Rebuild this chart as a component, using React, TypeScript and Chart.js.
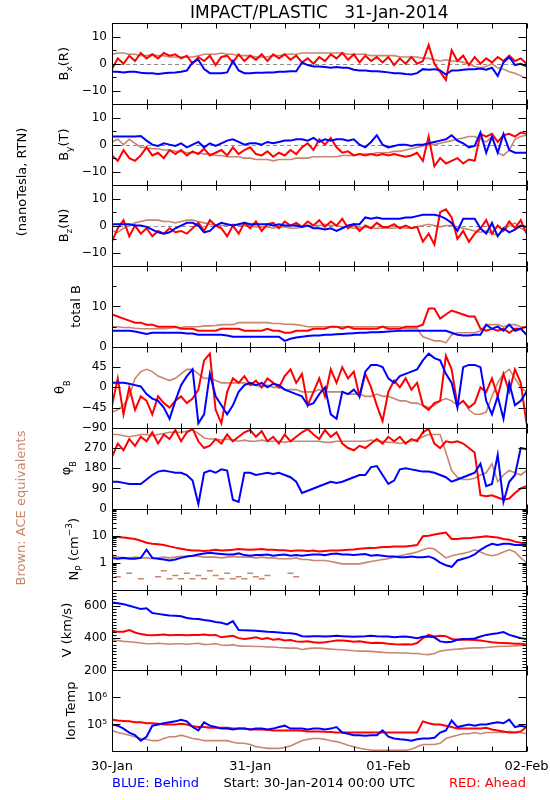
import React, { useEffect, useRef } from "react";
import { Chart, registerables } from "chart.js";

Chart.register(...registerables);

// ---------------- DATA (hours since 30-Jan-2014 00:00 UTC) ----------------
const HOURS = [
  0, 1, 2, 3, 4, 5, 6, 7, 8, 9, 10, 11, 12, 13, 14, 15, 16, 17, 18, 19, 20, 21, 22, 23,
  24, 25, 26, 27, 28, 29, 30, 31, 32, 33, 34, 35, 36, 37, 38, 39, 40, 41, 42, 43, 44, 45, 46, 47,
  48, 49, 50, 51, 52, 53, 54, 55, 56, 57, 58, 59, 60, 61, 62, 63, 64, 65, 66, 67, 68, 69, 70, 71, 72,
];
const DAY_LABELS = ["30-Jan", "31-Jan", "01-Feb", "02-Feb"];

// Bx (R), nT
const BX_BLUE = [-3, -3, -3.2, -3, -3, -3.3, -3.5, -3.5, -3.8, -3.5, -3.3, -3.2,
  -3, -2.5, 0.5, 1.5, -2, -3.5, -3.5, -3.5, -3.2, 1, -2.5, -3.5,
  -3.5, -3.3, -3.3, -3.2, -3.2, -3, -3, -2.8, -2.8, 0.5, -0.5, -1,
  -1, -1.2, -1.5, -1.2, -1.5, -1.5, -2.2, -2.5, -2.5, -2.8, -2.8, -3,
  -3.2, -3.5, -3.5, -3.8, -4, -3.5, -2, -2.2, -2, -2.5, -4, -2.5,
  -2.5, -2.2, -2, -2, -1.8, -2.2, -1.5, -4.5, 0.5, 2.5, -0.5, 0,
  -1];
const BX_RED = [-2, 2, 0, 3, 1, 4, 2, 3.5, 2, 4, 3, 3.5,
  2, 3, 0, 2.5, 1, 3, -0.5, 2.5, 3, 0.5, 3.5, 1,
  3, 1.5, 3.5, 1, 3.5, 2, 3.5, 1.5, 3, 0.5, 2, 0,
  2.5, 1, 3.5, 2, 4, 1.5, 3.5, 0.5, 3, 1, 2.5, 0.5,
  2.5, -0.5, 2, 0, 2.5, 0, 1, 7, 0, -3, -6, 5,
  1, 3, -0.5, 2.5, 0, 2, 0.5, 2.5, 1, 3, 1, 2,
  0];
const BX_BROWN = [3.5, 4, 4, 3.5, 3.5, 3, 3, 3.5, 3, 3, 2.5, 2.5,
  2.5, 2.5, 2.5, 3, 3.5, 3.5, 3.5, 4, 3.5, 3.5, 3, 3,
  3, 2.5, 2.5, 2.5, 3, 3, 3.5, 3.5, 3.5, 4, 4, 4,
  4, 4, 4, 4, 4, 3.5, 3.5, 3.5, 3.5, 3, 3, 3,
  3, 3, 2.5, 2.5, 2.5, 2.5, 2, 2, 1.5, 1, 1.5, 1,
  1, 0.5, 0, -1, -1.5, -1, 0, -1.5, -2, -3, -3.5, -4.5,
  -5.5];

// By (T), nT
const BY_BLUE = [3, 3, 3, 3, 3, 3.2, 1.5, 0, -0.5, 0.5, 0, -0.5,
  0.5, -1, 0, 1, -1, 0.5, -0.5, 0.5, 1.5, 2, 1, 0,
  0.5, 0.5, 0, 1, 0.5, 1, 1.5, 1.5, 2, 2, 1.5, 2.5,
  1, 2, 1.5, 2, 2, 1.5, 2, 0, -1, 1, 3.5, 0,
  -1, -0.5, 0, 0, -0.5, 0, 0, 0.5, 1, 1.5, 2, 3.5,
  1.5, 0.5, -1, -0.5, 4.5, -3, 3, -3, 4, -2, -3, -3,
  -3];
const BY_RED = [-4, -6, -2, -5, -6, -4, -1, -4, -3, -5, -2, -3.5,
  -2, -4, -2.5, -3.5, -1.5, -4, -3, -2, -4, -1, -3.5, -2,
  -1, -3.5, -4, -2.5, -4.5, -3, -4, -2, -3.5, -1, 0.5, -2,
  2, 0, 2.5, -1, -3, -2.5, -4, -3.5, -4, -3.5, -4, -3.5,
  -4, -3.5, -4, -4.5, -4, -3, -6, 3, -8, -5, -7, -6,
  -5, -7, -5.5, -6, 4, 3, 4, 1, 3.5, 4, 3, 4.5,
  4];
const BY_BROWN = [1, 2, 0, 2, 0.5, -1, -1, -1.5, -1.5, -2, -2, -2.5,
  -2.5, -3, -3, -3, -3.5, -3.5, -4, -4, -4.5, -4.5, -4.5, -5,
  -5, -5.5, -5.5, -5.5, -6, -5.5, -5.5, -5.5, -5, -5, -5, -4.5,
  -4.5, -4.5, -4.5, -4.5, -4, -4, -4, -3.5, -3.5, -3.5, -3, -3,
  -3, -2.5, -2.5, -2, -1.5, -1, -0.5, 0, 0, 0.5, 1, 1.5,
  2, 2.5, 3, 3, 2, 1, 3, -3, -4, -2, 2, 3,
  3.5];

// Bz (N), nT
const BZ_BLUE = [0.5, 0.5, 0.5, 0.5, 0, 0, -0.5, -1.5, -2.5, -3, -2.5, -1,
  0, 1, 1, 0, -2.5, -2, 0, 1, 0.5, 0, 0.5, 1,
  0.5, 0.5, 0.5, 0.5, 0, 0.5, 0, 0, 0, -0.5, 0, -1,
  -1, -1.5, -1, -2, -1, 0, 0.5, 0.5, 3, 2.5, 3, 2.5,
  2.5, 2.5, 2.5, 3, 3, 3.5, 4, 4, 4, 3.5, 2.5, 1,
  -2, 2.5, 2.5, 2.5, -1, -3, 1, -4, -1, -2.5, -1.5, 0,
  -0.5];
const BZ_RED = [-6, -1, 2, -4, 0, -3, -1, -4, -2, -3, -1, -2.5,
  -2, -3, -1, 1, -2, 2, 0, -1, -4, 0, -3, 1,
  -1, 1.5, -2, 0.5, 1, -1, 1.5, 0, 1, -0.5, 1.5, 0,
  2, -0.5, 1.5, 0, 2.5, -1, 0.5, -2, 0, -1, 1, -0.5,
  -0.5, 0.5, -1, 0, -1, -0.5, -6, -3, -7, 5, 6, 3,
  -5, -2, -6, -3, -1, 2, -3, 0, -2, 1.5, -1, 2,
  -3];
const BZ_BROWN = [-2, -2.5, -1, 0, 1, 1.5, 2, 2, 2, 1.5, 1.5, 1,
  1.5, 2, 2, 1.5, 1, 0.5, 0, 0, 0, 0.5, 0, 0,
  0, -0.5, -0.5, -0.5, -1, -0.5, -0.5, -1, -1, -0.5, 0, 0,
  0, 0.5, 0, 0, -0.5, -0.5, -1, -1, -0.5, -1, -1, -1,
  -1, -1, -0.5, -1, -1, -0.5, 0, 0.5, 0, -0.5, 0, 0,
  -0.5, -1, -1.5, -2, -2.5, -2, -3, -3.5, -2, 0, 1, -1,
  -2];

// total B, nT
const BT_BLUE = [4, 4, 4, 4, 3.8, 3.5, 3.2, 3.5, 3.5, 3.5, 3.5, 3.5,
  3.5, 3.3, 3.3, 3, 3, 3, 3, 3, 2.8, 2.5, 2.5, 2.5,
  2.5, 2.5, 2.5, 2.5, 2.5, 2.5, 1.5, 2, 2.3, 2.5, 2.7, 2.8,
  2.8, 3, 3, 3.1, 3.2, 3.3, 3.4, 3.5, 3.5, 3.6, 3.6, 3.7,
  3.8, 3.9, 4, 4, 4, 4, 4, 4, 4, 4, 4, 3.5,
  3, 2.8, 2.8, 3, 3, 5.5, 4.5, 5, 4, 5.5, 4, 4.5,
  3];
const BT_RED = [8, 7.5, 7, 6.5, 6, 6, 5.5, 5.5, 5, 5, 5, 5,
  4.5, 4.5, 4.5, 4, 4, 4, 4, 4.5, 4.5, 4.5, 4.5, 4,
  4, 4, 4, 4.5, 4, 4, 3.5, 3.5, 4, 4, 4, 4.5,
  4.5, 4.5, 5, 5, 4.5, 5, 4.5, 4.5, 4.5, 4.5, 4.5, 5,
  4.5, 4.5, 4.5, 5, 5, 5, 5.5, 9.5, 9.5, 7, 8, 9,
  8.5, 8, 7.5, 7.5, 4.5, 4, 4.5, 4, 4.5, 3.5, 4.5, 4.5,
  5];
const BT_BROWN = [5, 5, 4.8, 4.8, 4.6, 4.5, 4.5, 4.5, 4.5, 4.5, 4.6, 4.8,
  4.8, 5, 5, 5, 5.2, 5.2, 5.3, 5.5, 5.5, 5.5, 6, 6,
  6, 6, 6, 6, 5.8, 5.8, 5.6, 5.6, 5.5, 5.3, 5, 5,
  5, 5, 5, 5, 5, 5, 5, 5, 5, 5, 5, 5,
  5, 5, 5, 4.5, 4.5, 4.5, 2.5, 2, 1.5, 1.5, 1, 3,
  3.5, 3.5, 3.5, 3.5, 4, 5.5, 5.5, 5.5, 5, 5.5, 5.5, 5,
  5];

// theta_B, degrees
const TH_BLUE = [10, 10, 10, 8, 5, 2, -15, -25, -30, -45, -70, -30,
  5, 25, 40, -80, -60, 30, -20, -40, -60, -40, -10, 5,
  10, 5, 10, 0, 8, 5, -5, -10, -15, -20, -40, -35,
  -15, 0, -60, -70, -10, -15, -5, -20, 35, 50, 50, 45,
  20, 10, 25, 30, 35, 40, 60, 75, 65, 60, 30, 10,
  -45, 45, 50, 50, 45, -30, -60, -20, -70, 10, -40, -30,
  -10];
const TH_RED = [-40, 20, -60, 0, -50, -20, -30, -60, -20, -35, -45, -30,
  -20, -35, -25, -5, 60, 75, -50, -80, -10, 20, 10, 25,
  5, 15, 0, 20, 10, 0, 25, 40, 10, 30, -40, -10,
  20, -20, 40, 10, 45, 20, 35, -20, 30, 0, -40, -75,
  -10, 15, 0, 20, -5, 10, -40, -50, -35, -30, 70, 40,
  -40, -30, -45, -35, 0, -10, 20, -20, 30, -10, 40, 10,
  -80];
const TH_BROWN = [-55, -50, -40, -20, 20, 35, 40, 35, 25, 20, 15, 20,
  30, 40, 40, 30, 20, 20, 15, 10, 10, 10, 10, 10,
  5, 5, 0, 5, 0, 0, -5, -5, -5, -10, -10, -10,
  -5, -10, -10, -10, -10, -15, -15, -15, -20, -20, -15, -20,
  -20, -25, -30, -30, -35, -35, -40, -45, -40, -30, -25, -30,
  -40, -30, -50, -60, -60, -55, -20, 10, 30, 40, 20, 0,
  -10];

// phi_B, degrees
const PH_BLUE = [120, 120, 115, 110, 110, 110, 130, 150, 165, 170, 165, 160,
  160, 150, 125, 20, 160, 170, 160, 175, 170, 40, 30, 160,
  160, 150, 155, 160, 155, 160, 150, 140, 120, 70, 80, 90,
  100, 110, 120, 115, 120, 130, 140, 150, 150, 185, 190, 150,
  110, 125, 175, 180, 175, 170, 165, 165, 160, 150, 140, 120,
  130, 140, 150, 160, 200, 100, 110, 240, 30, 120, 150, 270,
  265];
const PH_RED = [230, 290, 260, 310, 280, 320, 300, 340, 290, 330, 310, 350,
  300, 340, 355, 300, 270, 280, 310, 290, 330, 300, 320, 340,
  350, 320, 345, 300, 320, 290, 330, 300, 320, 340, 355, 330,
  310, 350, 320, 340, 290, 270, 260, 280, 270, 290, 310, 290,
  320, 300, 320, 290, 310, 300, 340, 355, 290, 270, 300, 295,
  300, 290, 270, 250, 60, 55, 60, 50, 40, 45, 70, 90,
  100];
const PH_BROWN = [330, 330, 325, 320, 325, 330, 330, 325, 330, 335, 340, 340,
  340, 345, 350, 335, 315, 310, 310, 305, 310, 305, 300, 305,
  300, 300, 305, 300, 300, 300, 295, 300, 300, 300, 300, 300,
  300, 295, 295, 300, 300, 300, 300, 300, 300, 305, 300, 300,
  295, 295, 290, 295, 300, 310, 320, 330, 330, 330, 250, 170,
  140, 130, 130, 135, 150, 160, 200, 120, 150, 170, 160, 150,
  170];

// Np, cm^-3
const NP_BLUE = [1.5, 1.4, 1.5, 1.4, 1.4, 1.5, 3, 1.5, 1.4, 1.3, 1.2, 1.3,
  1.5, 1.7, 1.8, 2, 2.2, 2.3, 2.2, 2.1, 2, 2, 2.2, 1.9,
  1.8, 1.9, 1.9, 2, 1.8, 1.9, 2, 1.8, 1.9, 1.8, 1.9, 2,
  2, 1.9, 2.1, 2.2, 2, 2, 1.9, 2, 2.1, 1.8, 1.9, 1.8,
  1.7, 1.7, 1.6, 1.6, 1.7, 1.6, 1.6, 1.7, 1.4, 1, 0.8, 0.7,
  1.2, 1.4, 1.6, 2, 3, 4, 5, 4.5, 5, 5, 4.5, 4.5,
  4.5];
const NP_RED = [9, 9, 8.5, 8, 7.5, 6.5, 5.5, 5, 4.8, 4.5, 4, 3.6,
  3.3, 3, 2.8, 2.8, 2.7, 2.8, 3, 2.8, 2.9, 3, 3.2, 3.1,
  3, 3.1, 3.2, 3, 3, 2.9, 2.9, 2.7, 2.8, 2.8, 2.7, 2.8,
  2.6, 2.7, 2.8, 2.8, 2.9, 3, 3.1, 3.3, 3.4, 3.5, 3.6, 3.8,
  3.8, 4, 4, 4, 4.2, 4.5, 9.5, 10, 11, 12, 13, 7.5,
  7.5, 8, 8, 8.5, 9, 9.5, 9, 8.5, 7.5, 7, 6, 5.5,
  5];
const NP_BROWN = [1.6, 1.6, 1.5, 1.5, 1.6, 1.5, 1.5, 1.4, 1.5, 1.6, 1.5, 1.6,
  1.7, 1.7, 1.8, 1.7, 1.6, 1.6, 1.6, 1.5, 1.6, 1.7, 1.6, 1.6,
  1.6, 1.5, 1.6, 1.5, 1.5, 1.4, 1.4, 1.4, 1.5, 1.3, 1.3, 1.2,
  1.2, 1.2, 1.1, 1, 0.9, 0.9, 0.9, 0.9, 1, 1.1, 1.2, 1.3,
  1.4, 1.6, 1.8, 2, 2.2, 2.5, 3, 3.5, 3.2, 2.2, 1.5, 1.8,
  2, 2.2, 2.5, 3, 2.5, 2, 1.8, 2, 2.5, 3, 2.5, 1.5,
  1];
const NP_BROWN_LOW = [null, 0.3, null, 0.4, null, 0.25, null, null, 0.3, 0.5, 0.25, 0.33,
  0.25, 0.4, 0.25, 0.33, 0.25, 0.5, 0.33, 0.25, 0.4, 0.25, 0.3, 0.25,
  0.4, 0.3, 0.25, 0.33, null, null, null, 0.4, 0.3, null, null, null,
  null, null, null, null, null, null, null, null, null, null, null, null,
  null, null, null, null, null, null, null, null, null, null, null, null,
  null, null, null, null, null, null, null, null, null, null, null, null,
  null];

// V, km/s
const V_BLUE = [620, 615, 610, 600, 590, 580, 585, 555, 550, 545, 540, 538,
  535, 525, 520, 518, 512, 508, 500, 495, 485, 505, 450, 448,
  447, 445, 443, 440, 438, 435, 432, 430, 425, 412, 410, 412,
  412, 410, 412, 414, 412, 410, 408, 410, 412, 415, 412, 410,
  410, 405, 408, 410, 405, 400, 408, 410, 405, 380, 375, 378,
  390, 395, 395, 398, 410, 420, 425, 430, 438, 420, 410, 400,
  395];
const V_RED = [445, 440, 440, 450, 435, 425, 420, 418, 420, 422, 418, 420,
  420, 418, 420, 420, 422, 418, 420, 405, 410, 415, 400, 395,
  400, 405, 395, 400, 390, 395, 385, 388, 380, 378, 380, 375,
  372, 375, 380, 385, 385, 382, 378, 380, 375, 370, 372, 370,
  365, 362, 360, 362, 360, 370, 400, 420, 410, 415, 412, 395,
  390, 392, 390, 388, 385, 380, 375, 372, 370, 368, 365, 365,
  360];
const V_BROWN = [390, 385, 380, 378, 375, 370, 365, 365, 368, 365, 362, 365,
  365, 362, 365, 368, 360, 362, 365, 358, 355, 360, 352, 350,
  350, 348, 348, 345, 345, 342, 340, 338, 338, 330, 335, 338,
  338, 335, 332, 330, 328, 325, 322, 320, 320, 318, 315, 312,
  310, 310, 308, 308, 305, 305, 300, 298, 305, 320, 325, 330,
  332, 335, 338, 340, 340, 342, 345, 348, 350, 350, 352, 355,
  355];

// Ion temperature, K
const T_BLUE = [1.0e5, 9e4, 7e4, 5e4, 4e4, 2.5e4, 3.5e4, 9e4, 1.0e5, 1.1e5, 1.2e5, 1.3e5,
  1.5e5, 1.3e5, 8e4, 6e4, 1.2e5, 9e4, 8e4, 7e4, 7e4, 6.5e4, 7e4, 7e4,
  6.5e4, 7e4, 7e4, 6.5e4, 7e4, 8e4, 9e4, 7e4, 7e4, 7e4, 6.5e4, 7e4,
  7e4, 6.5e4, 7e4, 8e4, 5e4, 4.5e4, 4e4, 4e4, 3.8e4, 4e4, 4e4, 6e4,
  3.5e4, 3e4, 2.8e4, 2.7e4, 2.5e4, 2.8e4, 3e4, 3e4, 3.2e4, 5e4, 6e4, 1.4e5,
  8e4, 9e4, 1e5, 9e4, 1e5, 1e5, 1.1e5, 1.2e5, 1.1e5, 1.5e5, 8e4, 9e4,
  8e4];
const T_RED = [1.5e5, 1.4e5, 1.35e5, 1.3e5, 1.2e5, 1.2e5, 1.1e5, 1.1e5, 1.05e5, 1e5, 1e5, 1e5,
  1.05e5, 1e5, 8.5e4, 8e4, 8e4, 7.5e4, 7.5e4, 7.5e4, 7.5e4, 7e4, 7e4, 7e4,
  6.5e4, 6.5e4, 6.5e4, 6.3e4, 6e4, 6e4, 6e4, 6e4, 6e4, 5.8e4, 5.5e4, 5.5e4,
  5.5e4, 5.3e4, 5.2e4, 5e4, 5e4, 5e4, 5e4, 5e4, 5e4, 5e4, 5e4, 5e4,
  5e4, 5e4, 5e4, 5e4, 5e4, 5e4, 1.3e5, 1.1e5, 1e5, 1e5, 9e4, 8e4,
  7e4, 7e4, 7e4, 7e4, 7e4, 7.5e4, 6.5e4, 6e4, 5.5e4, 5e4, 5e4, 5.5e4,
  8e4];
const T_BROWN = [6e4, 5e4, 4.5e4, 4e4, 3.5e4, 3e4, 2.8e4, 2.5e4, 2.5e4, 3e4, 3.5e4, 3.5e4,
  4e4, 3.5e4, 3e4, 2.8e4, 2.5e4, 2.5e4, 2.5e4, 2.5e4, 2.5e4, 2.2e4, 2e4, 2e4,
  1.8e4, 1.5e4, 1.4e4, 1.3e4, 1.3e4, 1.3e4, 1.4e4, 1.6e4, 2e4, 2.5e4, 2.8e4, 3e4,
  3e4, 2.8e4, 2.5e4, 2.3e4, 2e4, 1.7e4, 1.5e4, 1.3e4, 1.2e4, 1.1e4, 1.1e4, 1.1e4,
  1.1e4, 1.1e4, 1.1e4, 1.1e4, 1.2e4, 1.5e4, 1.8e4, 1.8e4, 1.8e4, 2e4, 3e4, 3.5e4,
  4e4, 4.5e4, 4.5e4, 5e4, 4.5e4, 5e4, 5e4, 5e4, 5e4, 5.5e4, 5e4, 5e4,
  4.5e4];

// ---------------- STYLE / LAYOUT ----------------
const FONT = "'DejaVu Sans', 'Liberation Sans', sans-serif";
const BLUE = "#0000ff";
const RED = "#ff0000";
const BROWN = "#c8866e";
const W = 550;
const H = 800;
const PLOT_LEFT = 112;
const PLOT_RIGHT = 526.5;
const PLOT_TOP = 23.3;
const PLOT_BOTTOM = 751.4;
const X_TICKS = [0, 6, 12, 18, 24, 30, 36, 42, 48, 54, 60, 66, 72];

const minus = (v: number) => (v < 0 ? "\u2212" + Math.abs(v) : String(v));
const logMinor = (decades: number[]) =>
  decades.flatMap((d) => [2, 3, 4, 5, 6, 7, 8, 9].map((k) => k * d));

type Seg = { t: string; s?: number; dy?: number };
type Panel = {
  id: string;
  type: "linear" | "logarithmic";
  min: number;
  max: number;
  labels: number[];
  major: number[];
  minor: number[];
  fmt: (v: number) => string;
  zero?: boolean;
  blue: (number | null)[];
  red: (number | null)[];
  brown: (number | null)[];
  title: { x: number; segs: Seg[] };
};

const PANELS: Panel[] = [
  { id: "yBx", type: "linear", min: -15, max: 15, labels: [-10, 0, 10], major: [-10, 0, 10], minor: [-5, 5],
    fmt: minus, zero: true, blue: BX_BLUE, red: BX_RED, brown: BX_BROWN,
    title: { x: 68, segs: [{ t: "B" }, { t: "x", s: 9, dy: 4 }, { t: "(R)" }] } },
  { id: "yBy", type: "linear", min: -15, max: 15, labels: [-10, 0, 10], major: [-10, 0, 10], minor: [-5, 5],
    fmt: minus, zero: true, blue: BY_BLUE, red: BY_RED, brown: BY_BROWN,
    title: { x: 68, segs: [{ t: "B" }, { t: "y", s: 9, dy: 4 }, { t: "(T)" }] } },
  { id: "yBz", type: "linear", min: -15, max: 15, labels: [-10, 0, 10], major: [-10, 0, 10], minor: [-5, 5],
    fmt: minus, zero: true, blue: BZ_BLUE, red: BZ_RED, brown: BZ_BROWN,
    title: { x: 68, segs: [{ t: "B" }, { t: "z", s: 9, dy: 4 }, { t: "(N)" }] } },
  { id: "yBt", type: "linear", min: 0, max: 20, labels: [0, 10], major: [10], minor: [5, 15],
    fmt: minus, blue: BT_BLUE, red: BT_RED, brown: BT_BROWN,
    title: { x: 80, segs: [{ t: "total B" }] } },
  { id: "yTh", type: "linear", min: -90, max: 90, labels: [-90, -45, 0, 45], major: [-45, 0, 45], minor: [],
    fmt: minus, blue: TH_BLUE, red: TH_RED, brown: TH_BROWN,
    title: { x: 64, segs: [{ t: "\u03b8" }, { t: "B", s: 8, dy: 6 }] } },
  { id: "yPh", type: "linear", min: 0, max: 360, labels: [0, 90, 180, 270], major: [90, 180, 270], minor: [],
    fmt: minus, blue: PH_BLUE, red: PH_RED, brown: PH_BROWN,
    title: { x: 70, segs: [{ t: "\u03c6" }, { t: "B", s: 8, dy: 6 }] } },
  { id: "yNp", type: "logarithmic", min: 0.1, max: 100, labels: [1, 10], major: [1, 10], minor: logMinor([0.1, 1, 10]),
    fmt: (v) => String(v), blue: NP_BLUE, red: NP_RED, brown: NP_BROWN,
    title: { x: 78, segs: [{ t: "N" }, { t: "P", s: 9, dy: 4 }, { t: " (cm" }, { t: "\u22123", s: 9, dy: -6 }, { t: ")" }] } },
  { id: "yV", type: "linear", min: 200, max: 700, labels: [200, 400, 600], major: [400, 600],
    minor: [220, 240, 260, 280, 300, 320, 340, 360, 380, 420, 440, 460, 480, 500, 520, 540, 560, 580, 620, 640, 660, 680],
    fmt: minus, blue: V_BLUE, red: V_RED, brown: V_BROWN,
    title: { x: 71, segs: [{ t: "V (km/s)" }] } },
  { id: "yT", type: "logarithmic", min: 1e4, max: 1e7, labels: [1e5, 1e6], major: [1e5, 1e6], minor: [],
    fmt: (v) => (v === 1e5 ? "10\u2075" : v === 1e6 ? "10\u2076" : ""), blue: T_BLUE, red: T_RED, brown: T_BROWN,
    title: { x: 75, segs: [{ t: "Ion Temp" }] } },
];

const toPts = (arr: (number | null)[]) => HOURS.map((h, i) => ({ x: h, y: arr[i] }));

function drawRich(ctx: CanvasRenderingContext2D, x: number, cy: number, segs: Seg[], color: string, size = 13) {
  ctx.save();
  ctx.translate(x, cy);
  ctx.rotate(-Math.PI / 2);
  let w = 0;
  for (const s of segs) {
    ctx.font = `${s.s || size}px ${FONT}`;
    w += ctx.measureText(s.t).width;
  }
  let cx = -w / 2;
  ctx.fillStyle = color;
  ctx.textAlign = "left";
  ctx.textBaseline = "alphabetic";
  for (const s of segs) {
    ctx.font = `${s.s || size}px ${FONT}`;
    ctx.fillText(s.t, cx, s.dy || 0);
    cx += ctx.measureText(s.t).width;
  }
  ctx.restore();
}

const overlayPlugin = {
  id: "overlay",
  beforeDatasetsDraw(chart: any) {
    const ctx: CanvasRenderingContext2D = chart.ctx;
    const { left, right } = chart.chartArea;
    ctx.save();
    ctx.strokeStyle = "#8c8c8c";
    ctx.lineWidth = 1;
    ctx.setLineDash([4, 3]);
    for (const p of PANELS) {
      if (!p.zero) continue;
      const y = Math.round(chart.scales[p.id].getPixelForValue(0)) + 0.5;
      ctx.beginPath();
      ctx.moveTo(left, y);
      ctx.lineTo(right, y);
      ctx.stroke();
    }
    ctx.restore();
  },
  afterDraw(chart: any) {
    const ctx: CanvasRenderingContext2D = chart.ctx;
    const { left, right } = chart.chartArea;
    const xs = chart.scales.x;
    const L = Math.round(left) + 0.5;
    const R = Math.round(right) - 0.5;
    ctx.save();
    ctx.strokeStyle = "#000";
    ctx.lineWidth = 1;
    for (const p of PANELS) {
      const s = chart.scales[p.id];
      const top = Math.round(s.top) + 0.5;
      const bot = Math.round(s.bottom) + 0.5;
      ctx.strokeRect(L, top, R - L, bot - top);
      ctx.beginPath();
      for (const t of X_TICKS) {
        const px = Math.round(xs.getPixelForValue(t)) + 0.5;
        ctx.moveTo(px, top);
        ctx.lineTo(px, top + 5);
        ctx.moveTo(px, bot);
        ctx.lineTo(px, bot - 5);
      }
      const tick = (v: number, len: number) => {
        const py = Math.round(s.getPixelForValue(v)) + 0.5;
        ctx.moveTo(L, py);
        ctx.lineTo(L + len, py);
        ctx.moveTo(R, py);
        ctx.lineTo(R - len, py);
      };
      p.major.forEach((v) => tick(v, 8));
      p.minor.forEach((v) => tick(v, 4));
      ctx.stroke();
      drawRich(ctx, p.title.x, (s.top + s.bottom) / 2, p.title.segs, "#000");
    }
    // side labels
    drawRich(ctx, 26, 182, [{ t: "(nanoTesla, RTN)" }], "#000");
    drawRich(ctx, 25, 508, [{ t: "Brown: ACE equivalents" }], BROWN);
    // title
    ctx.fillStyle = "#000";
    ctx.font = `17px ${FONT}`;
    ctx.textAlign = "center";
    ctx.textBaseline = "alphabetic";
    ctx.fillText("IMPACT/PLASTIC   31-Jan-2014", (left + right) / 2, 17.5);
    // bottom legend
    ctx.font = `13px ${FONT}`;
    ctx.textAlign = "left";
    ctx.fillStyle = BLUE;
    ctx.fillText("BLUE: Behind", 112, 787);
    ctx.textAlign = "center";
    ctx.fillStyle = "#000";
    ctx.fillText("Start: 30-Jan-2014 00:00 UTC", (left + right) / 2, 787);
    ctx.textAlign = "right";
    ctx.fillStyle = RED;
    ctx.fillText("RED: Ahead", 526, 787);
    ctx.restore();
  },
};

export default function App() {
  const ref = useRef<HTMLCanvasElement>(null);
  useEffect(() => {
    if (!ref.current) return;
    Chart.defaults.font.family = FONT;
    const scales: any = {
      x: {
        type: "linear",
        position: "bottom",
        min: 0,
        max: 72,
        grid: { display: false, drawTicks: false },
        border: { display: false },
        ticks: {
          autoSkip: false,
          maxRotation: 0,
          minRotation: 0,
          padding: 7,
          color: "#000",
          font: { size: 13, family: FONT },
          callback: (v: number) => (v % 24 === 0 ? DAY_LABELS[v / 24] : ""),
        },
        afterBuildTicks: (s: any) => {
          s.ticks = [0, 24, 48, 72].map((v) => ({ value: v }));
        },
        afterFit: (s: any) => {
          s.height = H - PLOT_BOTTOM;
          s.paddingLeft = 0;
          s.paddingRight = 0;
        },
      },
    };
    const datasets: any[] = [];
    PANELS.forEach((p, i) => {
      scales[p.id] = {
        type: p.type,
        position: "left",
        stack: "panels",
        stackWeight: 1,
        weight: 20 - i,
        min: p.min,
        max: p.max,
        grid: { display: false, drawTicks: false },
        border: { display: false },
        ticks: {
          autoSkip: false,
          padding: 5,
          color: "#000",
          font: { size: 12, family: FONT },
          callback: (v: number) => (p.labels.includes(v) ? p.fmt(v) : ""),
        },
        afterBuildTicks: (s: any) => {
          s.ticks = p.labels.map((v) => ({ value: v }));
        },
        afterFit: (s: any) => {
          s.width = PLOT_LEFT;
          s.paddingTop = 0;
          s.paddingBottom = 0;
        },
      };
      const common = { xAxisID: "x", yAxisID: p.id, pointRadius: 0, fill: false, tension: 0 };
      datasets.push({ ...common, label: p.id + " behind", data: toPts(p.blue), borderColor: BLUE, borderWidth: 2 });
      datasets.push({ ...common, label: p.id + " ahead", data: toPts(p.red), borderColor: RED, borderWidth: 2 });
      datasets.push({ ...common, label: p.id + " ACE", data: toPts(p.brown), borderColor: BROWN, borderWidth: 1.6 });
      if (p.id === "yNp") {
        datasets.push({
          ...common,
          label: "Np ACE low",
          data: toPts(NP_BROWN_LOW),
          showLine: false,
          pointStyle: "line",
          pointRadius: 3,
          borderColor: BROWN,
          borderWidth: 1.5,
        });
      }
    });
    const chart = new Chart(ref.current, {
      type: "line",
      data: { datasets },
      options: {
        responsive: false,
        animation: false,
        devicePixelRatio: 1,
        layout: { padding: { top: PLOT_TOP, right: W - PLOT_RIGHT, left: 0, bottom: 0 } },
        plugins: { legend: { display: false }, tooltip: { enabled: false }, title: { display: false } },
        scales,
      },
      plugins: [overlayPlugin],
    } as any);
    return () => chart.destroy();
  }, []);
  return (
    <div style={{ position: "fixed", left: 0, top: 0, width: W, height: H, background: "#fff" }}>
      <canvas ref={ref} width={W} height={H} style={{ display: "block", width: W, height: H }} />
    </div>
  );
}
